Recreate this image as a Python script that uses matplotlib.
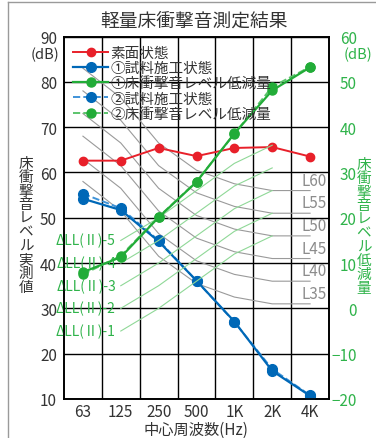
import matplotlib
matplotlib.use("Agg")
import matplotlib.pyplot as plt
from matplotlib.lines import Line2D
import numpy as np

plt.rcParams['font.family'] = ['Noto Sans CJK JP', 'DejaVu Sans']

# data
freqs = ['63', '125', '250', '500', '1K', '2K', '4K']
bare = [62.6, 62.6, 65.4, 63.6, 65.4, 65.6, 63.5]
spec1 = [54.2, 51.7, 44.8, 36.1, 27.1, 16.2, 10.7]
spec2 = [55.3, 52.1, 45.0, 36.1, 27.0, 16.6, 10.8]
redu1 = [8.0, 11.3, 20.1, 27.9, 38.6, 48.1, 53.2]
redu2 = [7.5, 11.6, 20.2, 28.0, 38.5, 48.9, 53.3]

# reference grade curves
l_grades = [35, 40, 45, 50, 55, 60]
l_shape = [23, 16.5, 6.5, 0.5, -2.5, -4, -4]
dll_grades = [1, 2, 3, 4, 5]
dll_start = [-5, 0, 5, 10, 15]
dll_shape = [0, 5, 11, 17, 21]

RED = '#e8202a'
BLUE = '#0068b7'
GREEN = '#22ac38'
BLUE2 = '#3f93d8'
GREEN2 = '#5cc46c'
TXT = '#333333'
LGREEN = '#2fb34a'

fig = plt.figure(figsize=(3.76, 4.39), dpi=100)
ax = fig.add_axes([64/376, 1-400/439, (329-64)/376, (400-37.5)/439])
ax2 = ax.twinx()

x = np.arange(len(freqs))

# L curves
for g in l_grades:
    ax.plot(x, g + np.array(l_shape), color='#9a9a9a', lw=0.8, zorder=1)
    ax.text(6.43, g - 4 + 0.4, 'L%d' % g, ha='right', va='bottom',
            fontsize=11, color='#8c8c8c', zorder=2)

# measured left axis
ax.plot(x, bare, '-o', color=RED, lw=1.4, ms=6, zorder=5, label='素面状態')
ax.plot(x, spec1, '-o', color=BLUE, lw=1.6, ms=7, zorder=5, label='①試料施工状態')
ax.plot(x, spec2, '--o', color=BLUE2, lw=1.4, ms=7, zorder=4, label='②試料施工状態',
        markerfacecolor=BLUE, markeredgecolor=BLUE)

# dLL curves (right axis)
xd = x[1:6]
for g, s in zip(dll_grades, dll_start):
    ax2.plot(xd, s + np.array(dll_shape), color='#8fd897', lw=0.8, zorder=1)
    ax2.text(0.87, s, 'ΔLL(Ⅱ)-%d' % g, ha='right', va='center',
             fontsize=10, color=LGREEN, zorder=2)

ax2.plot(x, redu1, '-o', color=GREEN, lw=1.6, ms=6.5, zorder=5, label='①床衝撃音レベル低減量')
ax2.plot(x, redu2, '--o', color=GREEN2, lw=1.4, ms=6.5, zorder=4, label='②床衝撃音レベル低減量',
         markerfacecolor=GREEN, markeredgecolor=GREEN)

ax.set_xlim(-0.5, 6.5)
ax.set_ylim(10, 90)
ax2.set_ylim(-20, 60)
ax.set_yticks(np.arange(10, 91, 10))
ax2.set_yticks(np.arange(-20, 61, 10))
ax.set_xticks(x)
ax.set_xticklabels(freqs)
ax.set_xticks(x[:-1] + 0.5, minor=True)

ax.grid(True, which='major', axis='y', color='black', lw=1.0)
ax.grid(True, which='minor', axis='x', color='black', lw=1.0)
ax.set_axisbelow(True)

ax.tick_params(axis='both', which='both', length=0)
ax.tick_params(axis='y', labelsize=11, labelcolor=TXT, pad=5)
ax.tick_params(axis='x', labelsize=11, labelcolor=TXT, pad=3)
ax2.tick_params(axis='y', length=0, labelsize=11, labelcolor=LGREEN, pad=20)
for t in ax2.get_yticklabels():
    t.set_horizontalalignment('right')

for a in (ax, ax2):
    for sp in a.spines.values():
        sp.set_color('black')
        sp.set_linewidth(1.2)

# title and side labels
fig.text(196/376, 1-430/439, '中心周波数(Hz)', ha='center', va='center',
         fontsize=11, color=TXT)
fig.text(194/376, 1-21/439, '軽量床衝撃音測定結果', ha='center', va='center',
         fontsize=13.5, color=TXT)
fig.text(45/376, 1-55/439, '(dB)', ha='center', va='center', fontsize=10.5, color=TXT)
fig.text(358/376, 1-55/439, '(dB)', ha='center', va='center', fontsize=10.5, color=LGREEN)
fig.text(26/376, 1-226/439, '\n'.join('床衝撃音レベル実測値'), ha='center', va='center',
         fontsize=10.5, color=TXT, linespacing=0.98)
fig.text(364/376, 1-227/439, '\n'.join('床衝撃音レベル低減量'), ha='center', va='center',
         fontsize=10.5, color=LGREEN, linespacing=0.98)

# legend
h1 = [l for l in ax.get_lines() if not l.get_label().startswith('_')]
h2 = [l for l in ax2.get_lines() if not l.get_label().startswith('_')]
order = [h1[0], h1[1], h2[0], h1[2], h2[1]]
leg = ax2.legend(order, [h.get_label() for h in order], loc='upper left',
                 bbox_to_anchor=(0.0, 1.0), frameon=False, fontsize=10.5,
                 handlelength=2.4, handletextpad=0.15, labelspacing=0.08,
                 borderaxespad=0.55, borderpad=0.1)
for t in leg.get_texts():
    t.set_color(TXT)
leg.set_zorder(10)

# outer frame
fig.add_artist(Line2D([8/376, 8/376], [0, 1-3.3/439], color='#9a9a9a', lw=1))
fig.add_artist(Line2D([8/376, 1], [1-3.3/439, 1-3.3/439], color='#9a9a9a', lw=1))

fig.savefig('out.png', dpi=100)
